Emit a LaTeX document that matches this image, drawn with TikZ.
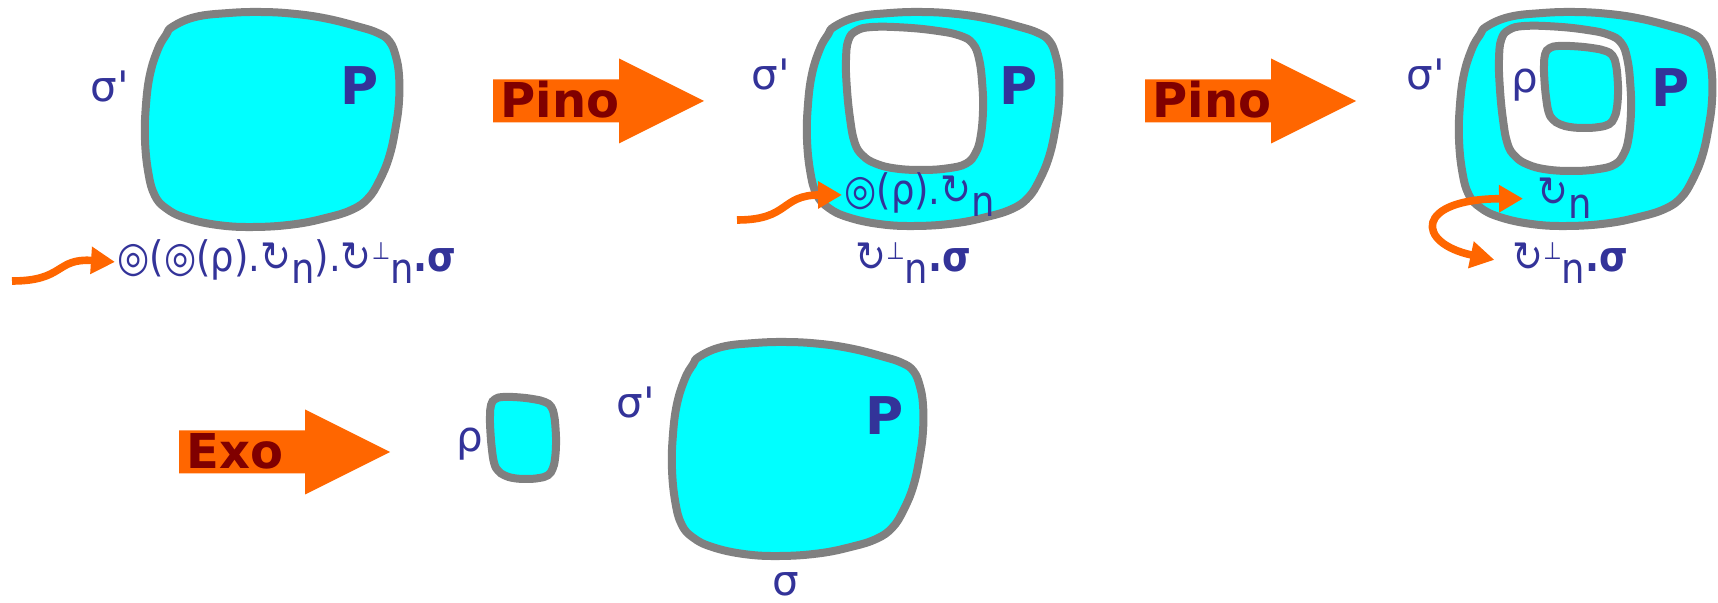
\documentclass[tikz,border=0pt]{standalone}
\usepackage{fontspec}
\setmainfont{DejaVu Sans}[Ligatures=TeXOff]
\newfontfamily\termfont{DejaVu Sans}[Ligatures=TeXOff, FakeStretch=0.88]
\usetikzlibrary{arrows.meta, positioning, calc}

\definecolor{txtblue}{RGB}{51,51,153}
\definecolor{pinoorange}{RGB}{255,102,0}
\definecolor{pinored}{RGB}{128,0,0}
\definecolor{edgegray}{RGB}{128,128,128}
\definecolor{regioncyan}{RGB}{0,255,255}

\newcommand{\rot}{↻}
\newcommand{\lown}{\raisebox{-0.28em}{n}}
\newcommand{\perpup}{\raisebox{0.3em}{\fontsize{12}{12}\selectfont ⊥}}
\newcommand{\bullseye}{◎}

% large region: x, y, width, height, fill
\newcommand{\bigblob}[5]{%
  \draw[region, fill=#5, shift={(#1,#2)}, xscale=#3, yscale=#4]
    plot[smooth cycle, tension=0.7] coordinates {(0.109,0.068) (0.199,0.023) (0.327,0.005)
    (0.455,0) (0.583,0.008) (0.712,0.030) (0.840,0.068) (0.917,0.098) (0.962,0.136)
    (0.987,0.204) (1,0.294) (1,0.415) (0.987,0.535) (0.962,0.671) (0.923,0.784)
    (0.878,0.867) (0.814,0.920) (0.712,0.958) (0.583,0.988) (0.429,1) (0.288,0.991)
    (0.160,0.958) (0.083,0.913) (0.038,0.852) (0.013,0.747) (0,0.596) (0.003,0.445)
    (0.019,0.294) (0.051,0.173) (0.083,0.106)};}
% small squarish region
\newcommand{\smallblob}[5]{%
  \draw[region, fill=#5, shift={(#1,#2)}, xscale=#3, yscale=#4]
    plot[smooth cycle, tension=0.7] coordinates {(0.075,0.027) (0.193,0) (0.429,0.004)
    (0.665,0.027) (0.830,0.060) (0.925,0.116) (0.972,0.228) (0.995,0.407) (1,0.586)
    (0.983,0.765) (0.948,0.877) (0.877,0.955) (0.736,0.989) (0.547,1) (0.358,0.989)
    (0.217,0.955) (0.123,0.899) (0.064,0.810) (0.028,0.631) (0.005,0.407) (0,0.228)
    (0.017,0.094)};}
% stage arrow: left end x, centre y, name, text
\newcommand{\stagearrow}[4]{%
  \fill[pinoorange] (#1,#2) ++(0,-21.5) -- ++(126,0) -- ++(0,-21) -- ++(85,42.5)
    -- ++(-85,42.5) -- ++(0,-21) -- ++(-126,0) -- cycle;
  \node[stage, anchor=base west] (#3) at ({#1+7},{#2+17}) {#4};}

\begin{document}
\begin{tikzpicture}[
  x=0.5pt, y=-0.5pt,
  region/.style = {draw=edgegray, line width=4pt},
  lbl/.style    = {text=txtblue, font=\fontsize{21}{21}\selectfont, inner sep=1pt, anchor=base west},
  term/.style   = {lbl, font=\termfont\fontsize{21}{21}\selectfont},
  pmark/.style  = {text=txtblue, font=\bfseries\fontsize{26}{26}\selectfont, inner sep=0pt, anchor=base west},
  stage/.style  = {text=pinored, font=\bfseries\fontsize{24}{24}\selectfont, inner sep=0pt},
  orarrow/.style = {draw=pinoorange, line width=3.8pt, -{Triangle[length=12pt, width=13pt]}},
]
  \useasboundingbox (0,0) rectangle (1718,603);

  % Regions
  \bigblob{145}{12}{254}{215}{regioncyan}
  \bigblob{807}{12}{252}{214}{regioncyan}
  \smallblob{846}{27}{137}{143}{white}
  \bigblob{1459}{12}{253}{214}{regioncyan}
  \smallblob{1499}{26}{132}{145}{white}
  \smallblob{1544}{46}{74}{82}{regioncyan}
  \smallblob{490}{397}{66}{82}{regioncyan}
  \bigblob{672}{342}{251}{214}{regioncyan}

  % Stage arrows
  \stagearrow{493}{101}{pino1}{Pino}
  \stagearrow{1145}{101}{pino2}{Pino}
  \stagearrow{179}{452}{exo}{Exo}

  % Region names
  \node[lbl]   (sig1) at (88,102)   {σ'};
  \node[pmark] (P1)   at (340,105)  {P};
  \node[lbl]   (sig2) at (749,90)   {σ'};
  \node[pmark] (P2)   at (999,105)  {P};
  \node[lbl]   (sig3) at (1404,90)  {σ'};
  \node[lbl]   (rho3) at (1509,93)  {ρ};
  \node[pmark] (P3)   at (1651,107) {P};
  \node[lbl]   (rho4) at (454,452)  {ρ};
  \node[lbl]   (sig4) at (614,418)  {σ'};
  \node[pmark] (P4)   at (865,435)  {P};
  \node[lbl]   (sigma4) at (770,596) {σ};

  % Terms
  \node[term] (term1)  at (115,272)  {\bullseye(\bullseye(ρ).\rot\lown).\rot\perpup\lown\textbf{.σ}};
  \node[term] (term2)  at (842,205)  {\bullseye(ρ).\rot\lown};
  \node[term] (term2b) at (853,272)  {\rot\perpup\lown\textbf{.σ}};
  \node[term] (term3)  at (1535,207) {\rot\lown};
  \node[term] (term3b) at (1510,272) {\rot\perpup\lown\textbf{.σ}};

  % Orange connectors
  \coordinate (in1) at (12,281);
  \coordinate (in2) at (737,220);
  \draw[orarrow] (in1) .. controls (65,281) and (55,258) .. (term1.west);
  \draw[orarrow] (in2) .. controls (790,220) and (780,195) .. (term2.west);
  \draw[orarrow, {Triangle[length=12pt, width=13pt]}-{Triangle[length=12pt, width=13pt]},
        shorten <=8pt, shorten >=6pt]
    (term3b.west) .. controls (1415,243) and (1415,199) .. (term3.west);
\end{tikzpicture}
\end{document}
